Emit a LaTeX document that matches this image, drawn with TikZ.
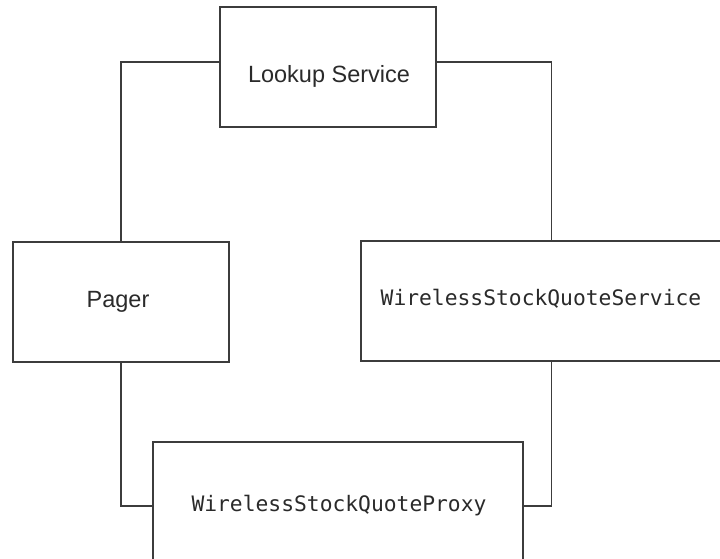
\documentclass[tikz,border=0pt]{standalone}
\usepackage{fontspec}
\setmainfont{Liberation Sans}
\newfontfamily\codefont{DejaVu Sans Mono}
\usetikzlibrary{calc}
\definecolor{ink}{HTML}{2A2A2A}
\definecolor{wire}{HTML}{3C3C3C}
\tikzset{
  box/.style={draw=wire, line width=1.2pt, fill=white, rectangle, inner sep=0pt},
  link/.style={draw=wire, line width=1.2pt},
  sanslabel/.style={text=ink, font=\fontsize{23.5}{26}\selectfont, inner sep=0pt},
  codelabel/.style={text=ink, font=\codefont\fontsize{21.3}{24}\selectfont, inner sep=0pt},
}
\begin{document}
\begin{tikzpicture}[x=1pt, y=-1pt]
\useasboundingbox (0,0) rectangle (720,559);
\clip (0,0) rectangle (720,559);

% service boxes
\node[box, minimum width=216pt, minimum height=120pt] (lookup) at (328,67) {};
\node[box, minimum width=216pt, minimum height=120pt] (pager) at (121,302) {};
\node[box, minimum width=381pt, minimum height=120pt] (service) at (551.5,301) {};
\node[box, minimum width=370pt, minimum height=128pt] (proxy) at (338,506) {};

% labels
\node[sanslabel] (lookuptext) at ([xshift=1pt, yshift=-9pt]lookup.center) {Lookup Service};
\node[sanslabel] (pagertext) at ([xshift=-3pt, yshift=0pt]pager.center) {Pager};
\node[codelabel] (servicetext) at ([xshift=-10.5pt, yshift=2pt]service.center) {WirelessStockQuoteService};
\node[codelabel] (proxytext) at ([xshift=1pt, yshift=0pt]proxy.center) {WirelessStockQuoteProxy};

% connections
\draw[link] ([yshift=5pt]lookup.west) -| (pager.north);
\draw[link] ([yshift=5pt]lookup.east) -| (service.north);
\draw[link] (pager.south) |- (proxy.west);
\draw[link] (service.south) |- (proxy.east);
\end{tikzpicture}
\end{document}
